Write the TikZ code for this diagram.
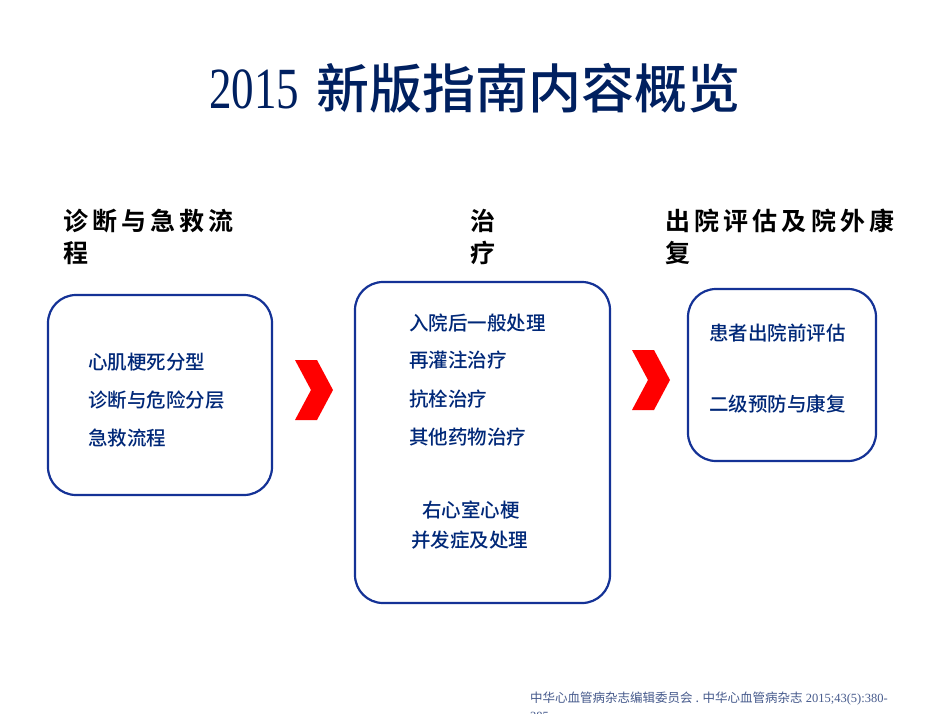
\documentclass[tikz,border=0pt]{standalone}
\usepackage{fontspec}
\newfontfamily\cjk{Noto Sans CJK SC}
\newfontfamily\cjkm{Noto Sans CJK SC Medium}
\newfontfamily\cjkb{Noto Sans CJK SC Bold}
\setmainfont{Liberation Serif}
\definecolor{navy}{RGB}{0,32,96}
\definecolor{boxblue}{RGB}{20,50,150}
\definecolor{txtblue}{RGB}{0,40,120}
\definecolor{foot}{RGB}{70,90,140}
\begin{document}
\begin{tikzpicture}[x=1pt,y=-1pt,
  box/.style={draw=boxblue,line width=2.2pt,rounded corners=28pt},
  item/.style={anchor=west,text=txtblue,font=\cjkm\fontsize{19.5}{23}\selectfont,inner sep=0pt},
  head/.style={anchor=west,text=black,font=\cjkb\fontsize{25}{30}\selectfont,inner sep=0pt,align=left},
  chev/.style={fill=red,draw=none}]
\useasboundingbox (0,0) rectangle (950,713);
\fill[white] (0,0) rectangle (950,713);
\node[text=navy,font=\fontsize{53}{58}\selectfont,inner sep=0pt] (title) at (475,88) {\scalebox{0.85}[1.1]{2015}\,\,{\cjkm 新版指南内容概览}};
\node[head] (h1) at (63,221) {诊\kern4pt 断\kern4pt 与\kern4pt 急\kern4pt 救\kern4pt 流};
\node[head] (h1b) at (63,253) {程};
\node[head] (h2) at (470,221) {治};
\node[head] (h2b) at (470,253) {疗};
\node[head] (h3) at (665,221) {出\,院\,评\,估\,及\,院\,外\,康};
\node[head] (h3b) at (665,253) {复};
\draw[box] (48,295) rectangle (272,495);
\draw[box] (355,282) rectangle (610,603);
\draw[box] (688,289) rectangle (876,461);
\node[item] (a1) at (88,362) {心肌梗死分型};
\node[item] (a2) at (88,400) {诊断与危险分层};
\node[item] (a3) at (88,438) {急救流程};
\node[item] (b1) at (409,323) {入院后一般处理};
\node[item] (b2) at (409,360) {再灌注治疗};
\node[item] (b3) at (409,399) {抗栓治疗};
\node[item] (b4) at (409,437) {其他药物治疗};
\node[item] (b5) at (422,510) {右心室心梗};
\node[item] (b6) at (411,540) {并发症及处理};
\node[item] (c1) at (709,333) {患者出院前评估};
\node[item] (c2) at (709,404) {二级预防与康复};
\fill[chev] (295,360) -- (317,360) -- (333,390) -- (317,420) -- (295,420) -- (311,390) -- cycle;
\fill[chev] (632,350) -- (654,350) -- (670,380) -- (654,410) -- (632,410) -- (648,380) -- cycle;
\node[anchor=west,text=foot,inner sep=0pt,font=\fontsize{12.5}{14}\selectfont] (ft) at (530,699) {{\cjk 中华心血管病杂志编辑委员会 . 中华心血管病杂志} 2015;43(5):380-};
\node[anchor=west,text=foot,inner sep=0pt,font=\fontsize{12.5}{14}\selectfont] (ft2) at (530,716) {385};
\end{tikzpicture}
\end{document}
